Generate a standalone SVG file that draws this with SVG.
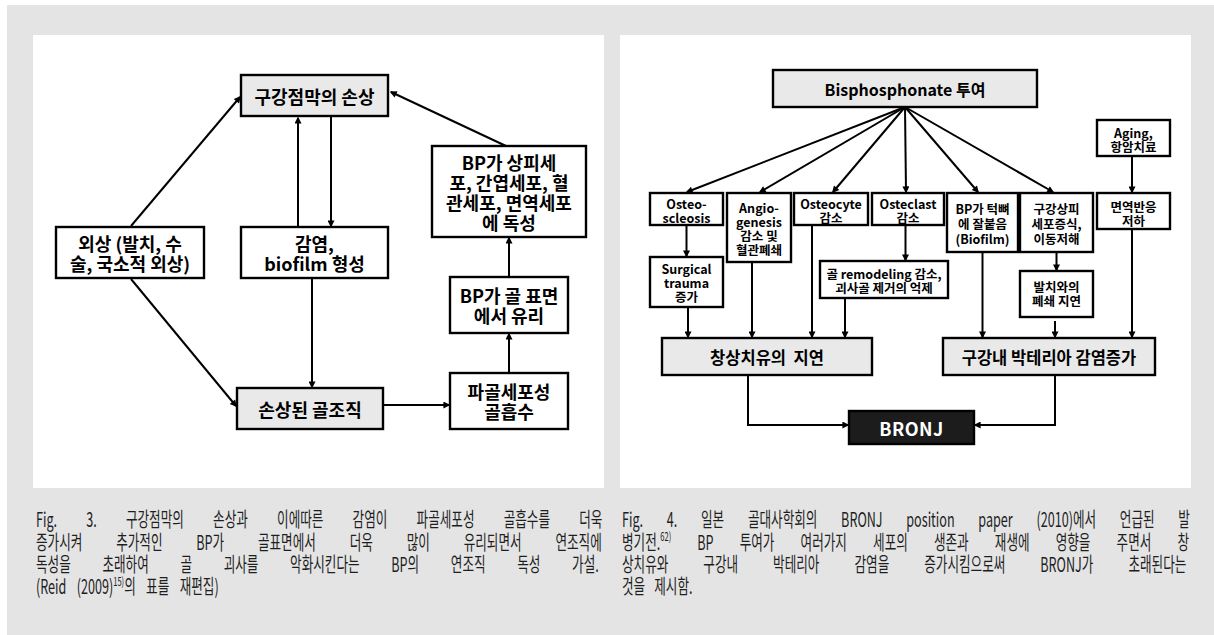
<svg xmlns="http://www.w3.org/2000/svg" width="1214" height="635" viewBox="0 0 1214 635">
<style>
.box{fill:#fff;stroke:#000;stroke-width:2.4}
.gbox{fill:#e9e9e9;stroke:#000;stroke-width:2.4}
.t{font-family:"Noto Sans CJK KR","Noto Sans",sans-serif;font-weight:700;fill:#000;text-anchor:middle}
.t,.t tspan{dominant-baseline:central}
.L{font-size:18px}
.M{font-size:16px}
.MM{font-size:16.5px}
.S{font-size:12.5px}
.conn path{stroke:#000;stroke-width:2;fill:none;marker-end:url(#ah)}
.cap{font-family:"Noto Sans CJK KR","Noto Sans",sans-serif;font-size:20px;fill:#1e1e1e}
</style>
<defs>
<marker id="ah" viewBox="0 0 10 10" refX="8" refY="5" markerWidth="9" markerHeight="7" markerUnits="userSpaceOnUse" orient="auto"><path d="M0,0 L10,5 L0,10 z" fill="#000"/></marker>
</defs>
<rect x="0" y="0" width="1214" height="635" fill="#fff"/>
<rect x="7" y="5" width="1207" height="630" fill="#e4e4e4"/>
<rect x="33" y="35" width="571" height="453" fill="#fff"/>
<rect x="620" y="35" width="571" height="453" fill="#fff"/>

<!-- Left diagram nodes -->
<g id="n-oral"><rect class="gbox" x="241" y="75" width="147" height="41"/><text class="t L" x="314.5" y="96">구강점막의 손상</text></g>
<g id="n-trauma"><rect class="box" x="56" y="227" width="148" height="51"/><text class="t L"><tspan x="130" y="243">외상 (발치, 수</tspan><tspan x="130" y="263">술, 국소적 외상)</tspan></text></g>
<g id="n-infect"><rect class="box" x="241" y="227" width="147" height="51"/><text class="t L"><tspan x="314.5" y="243">감염,</tspan><tspan x="314.5" y="263">biofilm 형성</tspan></text></g>
<g id="n-bone"><rect class="gbox" x="237" y="388" width="146" height="41"/><text class="t L" x="310" y="408.5">손상된 골조직</text></g>
<g id="n-resorb"><rect class="box" x="450" y="373" width="118" height="56"/><text class="t L"><tspan x="509" y="391">파골세포성</tspan><tspan x="509" y="411">골흡수</tspan></text></g>
<g id="n-release"><rect class="box" x="450" y="277" width="118" height="56"/><text class="t L"><tspan x="509" y="295">BP가 골 표면</tspan><tspan x="509" y="315">에서 유리</tspan></text></g>
<g id="n-toxic"><rect class="box" x="432" y="146" width="154" height="91"/><text class="t L"><tspan x="509" y="161.5">BP가 상피세</tspan><tspan x="509" y="181.5">포, 간엽세포, 혈</tspan><tspan x="509" y="201.5">관세포, 면역세포</tspan><tspan x="509" y="221.5">에 독성</tspan></text></g>

<!-- Right diagram nodes -->
<g id="r-bp"><rect class="gbox" x="773" y="70" width="264" height="37"/><text class="t M" x="905" y="88.5">Bisphosphonate 투여</text></g>
<g id="r-aging"><rect class="box" x="1097" y="120" width="73" height="36"/><text class="t S"><tspan x="1133.5" y="131.5">Aging,</tspan><tspan x="1133.5" y="145.5">항암치료</tspan></text></g>
<g id="r-osteo"><rect class="box" x="650" y="193" width="73" height="32"/><text class="t S"><tspan x="686.5" y="203">Osteo-</tspan><tspan x="686.5" y="217">scleosis</tspan></text></g>
<g id="r-angio"><rect class="box" x="727" y="193" width="64" height="69"/><text class="t S"><tspan x="759" y="206.5">Angio-</tspan><tspan x="759" y="221">genesis</tspan><tspan x="759" y="235">감소 및</tspan><tspan x="759" y="249">혈관폐쇄</tspan></text></g>
<g id="r-osteocyte"><rect class="box" x="794" y="193" width="74" height="32"/><text class="t S"><tspan x="831" y="203">Osteocyte</tspan><tspan x="831" y="217">감소</tspan></text></g>
<g id="r-osteclast"><rect class="box" x="872" y="193" width="72" height="32"/><text class="t S"><tspan x="908" y="203">Osteclast</tspan><tspan x="908" y="217">감소</tspan></text></g>
<g id="r-jaw"><rect class="box" x="947" y="193" width="71" height="59"/><text class="t S"><tspan x="982.5" y="208">BP가 턱뼈</tspan><tspan x="982.5" y="222.5">에 잘붙음</tspan><tspan x="982.5" y="237.5">(Biofilm)</tspan></text></g>
<g id="r-epi"><rect class="box" x="1020" y="193" width="73" height="59"/><text class="t S"><tspan x="1056.5" y="208">구강상피</tspan><tspan x="1056.5" y="222.5">세포증식,</tspan><tspan x="1056.5" y="237.5">이동저해</tspan></text></g>
<g id="r-immune"><rect class="box" x="1097" y="193" width="73" height="36"/><text class="t S"><tspan x="1133.5" y="205.5">면역반응</tspan><tspan x="1133.5" y="219.5">저하</tspan></text></g>
<g id="r-surg"><rect class="box" x="650" y="257" width="73" height="50"/><text class="t S"><tspan x="686.5" y="268">Surgical</tspan><tspan x="686.5" y="282">trauma</tspan><tspan x="686.5" y="296">증가</tspan></text></g>
<g id="r-remodel"><rect class="box" x="820" y="261" width="128" height="37"/><text class="t S"><tspan x="884" y="273">골 remodeling 감소,</tspan><tspan x="884" y="287">괴사골 제거의 억제</tspan></text></g>
<g id="r-socket"><rect class="box" x="1020" y="271" width="73" height="46"/><text class="t S"><tspan x="1056.5" y="285.5">발치와의</tspan><tspan x="1056.5" y="300">폐쇄 지연</tspan></text></g>
<g id="r-heal"><rect class="gbox" x="662" y="338" width="210" height="37"/><text class="t MM" x="767" y="356.5">창상치유의&#160; 지연</text></g>
<g id="r-bact"><rect class="gbox" x="943" y="338" width="212" height="37"/><text class="t MM" x="1049" y="356.5">구강내 박테리아 감염증가</text></g>
<g id="r-bronj"><rect x="849" y="411" width="125" height="33" fill="#1c1c1c" stroke="#000" stroke-width="2.4"/><text class="t" x="911.5" y="427.5" font-size="18" style="fill:#fff" letter-spacing="0.5">BRONJ</text></g>

<!-- Connectors -->
<g id="connectors" class="conn">
<path d="M131,226 L240,97"/>
<path d="M131,279 L236,406"/>
<path d="M298,227 L298,118"/>
<path d="M331,117 L331,226"/>
<path d="M312,279 L312,387"/>
<path d="M383,405 L449,405"/>
<path d="M509,373 L509,334"/>
<path d="M509,277 L509,238"/>
<path d="M506,146 L391,92"/>
<path d="M905,107 L687,192"/>
<path d="M905,107 L760,192"/>
<path d="M905,107 L833,192"/>
<path d="M905,107 L906,192"/>
<path d="M905,107 L978,192"/>
<path d="M905,107 L1053,192"/>
<path d="M686.5,225 L686.5,256"/>
<path d="M905.5,225 L905.5,260"/>
<path d="M1056.5,252 L1056.5,270"/>
<path d="M1132,156 L1132,192"/>
<path d="M688,307 L688,337"/>
<path d="M752,262 L752,337"/>
<path d="M812,225 L812,337"/>
<path d="M845,298 L845,337"/>
<path d="M982.5,252 L982.5,337"/>
<path d="M1055,321 L1055,337"/>
<path d="M1132,229 L1132,337"/>
<path d="M748,375 L748,425 L848,425"/>
<path d="M1055,375 L1055,425 L975,425"/>
</g>

<!-- Captions -->
<g id="caption-left" class="cap">
<text transform="translate(36 527) scale(0.63 1)"><tspan x="0" y="0" word-spacing="41.9">Fig. 3. 구강점막의 손상과 이에따른 감염이 파골세포성 골흡수를 더욱</tspan><tspan x="0" y="22.5" word-spacing="49.2">증가시켜 추가적인 BP가 골표면에서 더욱 많이 유리되면서 연조직에</tspan><tspan x="0" y="45" word-spacing="45.8">독성을 초래하여 골 괴사를 악화시킨다는 BP의 연조직 독성 가설.</tspan><tspan x="0" y="67.5" word-spacing="12">(Reid (2009)<tspan font-size="12" dy="-8">15)</tspan><tspan dy="8">의 표를 재편집)</tspan></tspan></text>
</g>
<g id="caption-right" class="cap">
<text transform="translate(622 527) scale(0.63 1)"><tspan x="0" y="0" word-spacing="33.2">Fig. 4. 일본 골대사학회의 BRONJ position paper (2010)에서 언급된 발</tspan><tspan x="0" y="22.5" word-spacing="37">병기전.<tspan font-size="12" dy="-8">62)</tspan><tspan dy="8"> BP 투여가 여러가지 세포의 생존과 재생에 영향을 주면서 창</tspan></tspan><tspan x="0" y="45" word-spacing="51.1">상치유와 구강내 박테리아 감염을 증가시킴으로써 BRONJ가 초래된다는</tspan><tspan x="0" y="67.5" word-spacing="10">것을 제시함.</tspan></text>
</g>
</svg>
